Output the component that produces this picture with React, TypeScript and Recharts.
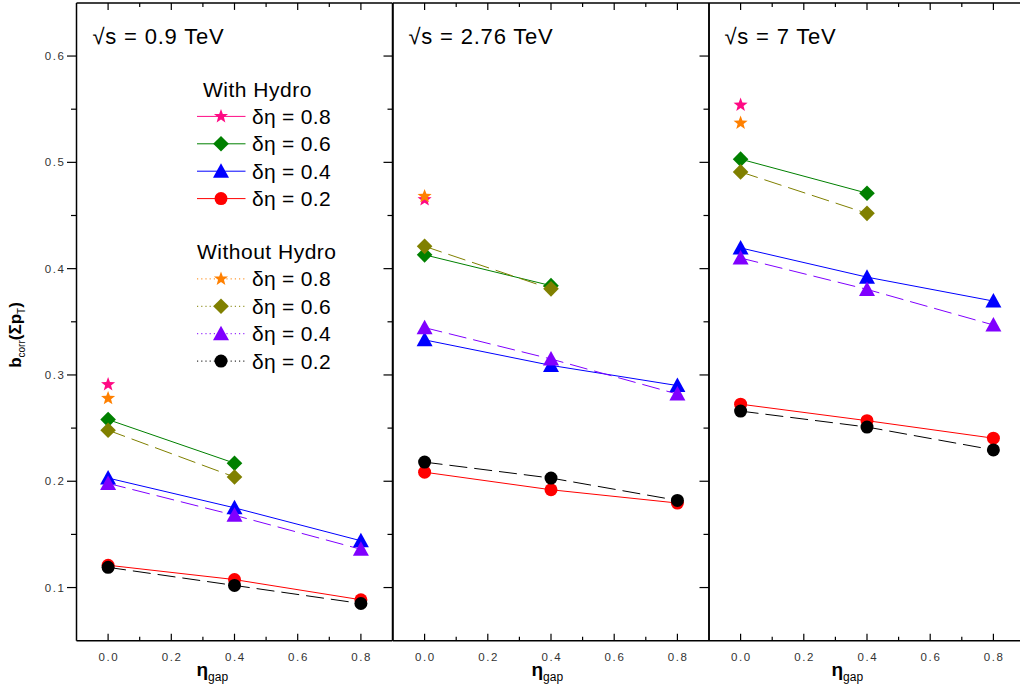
import React from 'react'
import { LineChart, Line, XAxis, YAxis } from 'recharts'

// η_gap positions of the calculation points
const ETA_GAP = [0.0, 0.4, 0.8]
const ENERGIES = ['0.9', '2.76', '7']
const DELTA_ETA = ['0.8', '0.6', '0.4', '0.2']

// √s = 0.9 TeV
const HYDRO_09_D08 = [0.291]
const HYDRO_09_D06 = [0.258, 0.217]
const HYDRO_09_D04 = [0.203, 0.175, 0.144]
const HYDRO_09_D02 = [0.121, 0.1075, 0.0885]
const NOHYDRO_09_D08 = [0.278]
const NOHYDRO_09_D06 = [0.248, 0.204]
const NOHYDRO_09_D04 = [0.198, 0.168, 0.136]
const NOHYDRO_09_D02 = [0.119, 0.102, 0.085]

// √s = 2.76 TeV
const HYDRO_276_D08 = [0.465]
const HYDRO_276_D06 = [0.413, 0.384]
const HYDRO_276_D04 = [0.333, 0.309, 0.29]
const HYDRO_276_D02 = [0.2085, 0.192, 0.1795]
const NOHYDRO_276_D08 = [0.468]
const NOHYDRO_276_D06 = [0.421, 0.381]
const NOHYDRO_276_D04 = [0.3445, 0.315, 0.282]
const NOHYDRO_276_D02 = [0.218, 0.203, 0.182]

// √s = 7 TeV
const HYDRO_7_D08 = [0.554]
const HYDRO_7_D06 = [0.503, 0.471]
const HYDRO_7_D04 = [0.4195, 0.392, 0.3695]
const HYDRO_7_D02 = [0.2725, 0.257, 0.2405]
const NOHYDRO_7_D08 = [0.537]
const NOHYDRO_7_D06 = [0.491, 0.452]
const NOHYDRO_7_D04 = [0.41, 0.3805, 0.347]
const NOHYDRO_7_D02 = [0.266, 0.251, 0.2295]

const X_TICKS = [0, 0.1, 0.2, 0.3, 0.4, 0.5, 0.6, 0.7, 0.8]
const Y_TICKS = [0.1, 0.15, 0.2, 0.25, 0.3, 0.35, 0.4, 0.45, 0.5, 0.55, 0.6]

const HYDRO_COLORS = ['#ff0a84', '#008000', '#0000ff', '#ff0000']
const NOHYDRO_COLORS = ['#ff8000', '#808000', '#8000ff', '#000000']
const SHAPES = ['star', 'diamond', 'triangle', 'circle']

const PANELS = [
  {
    energy: ENERGIES[0],
    hydro: [HYDRO_09_D08, HYDRO_09_D06, HYDRO_09_D04, HYDRO_09_D02],
    noHydro: [NOHYDRO_09_D08, NOHYDRO_09_D06, NOHYDRO_09_D04, NOHYDRO_09_D02],
  },
  {
    energy: ENERGIES[1],
    hydro: [HYDRO_276_D08, HYDRO_276_D06, HYDRO_276_D04, HYDRO_276_D02],
    noHydro: [NOHYDRO_276_D08, NOHYDRO_276_D06, NOHYDRO_276_D04, NOHYDRO_276_D02],
  },
  {
    energy: ENERGIES[2],
    hydro: [HYDRO_7_D08, HYDRO_7_D06, HYDRO_7_D04, HYDRO_7_D02],
    noHydro: [NOHYDRO_7_D08, NOHYDRO_7_D06, NOHYDRO_7_D04, NOHYDRO_7_D02],
  },
]

// layout
const W = 1020
const H = 688
const PLOT_TOP = 2.9
const PLOT_BOTTOM = 640.7
const PLOT_W = 316
const PLOT_LEFTS = [76.5, 392.5, 708.5]
const XTITLE_OFFSETS = [120, 139, 123]
const FONT = "'Liberation Sans', Arial, sans-serif"
const AXIS_STROKE = { stroke: '#000', strokeWidth: 1.5 }

function buildRows(hydro: number[][], noHydro: number[][]) {
  return ETA_GAP.map((x, i) => {
    const row: Record<string, number | undefined> = { x }
    hydro.forEach((s, k) => (row['h' + k] = s[i]))
    noHydro.forEach((s, k) => (row['n' + k] = s[i]))
    return row
  })
}

function Marker({ shape, cx, cy, color }: { shape: string; cx: number; cy: number; color: string }) {
  if (shape === 'circle') return <circle cx={cx} cy={cy} r={6.5} fill={color} />
  if (shape === 'diamond') {
    const r = 7.8
    return <polygon points={`${cx},${cy - r} ${cx + r},${cy} ${cx},${cy + r} ${cx - r},${cy}`} fill={color} />
  }
  if (shape === 'triangle') {
    return <polygon points={`${cx},${cy - 8} ${cx + 8},${cy + 6.5} ${cx - 8},${cy + 6.5}`} fill={color} />
  }
  // five-pointed star
  const pts: string[] = []
  for (let i = 0; i < 10; i++) {
    const r = i % 2 === 0 ? 7.4 : 3.1
    const a = -Math.PI / 2 + (i * Math.PI) / 5
    pts.push(`${cx + r * Math.cos(a)},${cy + r * Math.sin(a)}`)
  }
  return <polygon points={pts.join(' ')} fill={color} />
}

const isMajorY = (v: number) => Math.abs(v * 10 - Math.round(v * 10)) < 1e-6
const isMajorX = (v: number) => Math.round(v * 10) % 2 === 0

const tickText = { fontSize: 11.5, fill: '#333', letterSpacing: 1.6, fontFamily: FONT }

function makeTick(side: 'left' | 'right' | 'top' | 'bottom', labels: boolean) {
  return (p: any) => {
    const v = p.payload.value as number
    const { x, y } = p
    if (side === 'left' || side === 'right') {
      const major = isMajorY(v)
      const len = major ? 9.5 : 5.5
      return (
        <g key={`t-${side}-${v}`}>
          <line x1={x - len} x2={side === 'right' ? x + len : x} y1={y} y2={y} stroke="#000" strokeWidth={1.2} />
          {labels && major && (
            <text x={x - 11} y={y} dy="0.36em" textAnchor="end" {...tickText}>
              {v.toFixed(1)}
            </text>
          )}
        </g>
      )
    }
    const major = isMajorX(v)
    const len = major ? 7 : 4
    const dir = side === 'bottom' ? -1 : 1
    return (
      <g key={`t-${side}-${v}`}>
        <line x1={x} x2={x} y1={y} y2={y + dir * len} stroke="#000" strokeWidth={1.2} />
        {labels && major && (
          <text x={x + 0.8} y={y + 20.5} textAnchor="middle" {...tickText}>
            {v.toFixed(1)}
          </text>
        )}
      </g>
    )
  }
}

function Panel({ index }: { index: number }) {
  const panel = PANELS[index]
  const plotLeft = PLOT_LEFTS[index]
  const padL = index === 0 ? plotLeft : 12
  const padR = 12
  const width = padL + PLOT_W + padR
  const rows = buildRows(panel.hydro, panel.noHydro)

  const series = [
    ...panel.hydro.map((_, k) => ({ key: 'h' + k, color: HYDRO_COLORS[k], shape: SHAPES[k], dash: undefined })),
    ...panel.noHydro.map((_, k) => ({ key: 'n' + k, color: NOHYDRO_COLORS[k], shape: SHAPES[k], dash: '18 7' })),
  ]

  return (
    <div style={{ position: 'absolute', left: plotLeft - padL, top: 0 }}>
      <LineChart
        width={width}
        height={H}
        data={rows}
        margin={{ top: PLOT_TOP - 1, bottom: H - PLOT_BOTTOM - 1, left: padL - 1, right: padR - 1 }}
      >
        <XAxis
          dataKey="x"
          type="number"
          domain={[-0.1, 0.9]}
          ticks={X_TICKS}
          interval={0}
          height={1}
          tickSize={0}
          tickMargin={0}
          axisLine={AXIS_STROKE}
          tickLine={false}
          tick={makeTick('bottom', true)}
        />
        <XAxis
          xAxisId="top"
          orientation="top"
          dataKey="x"
          type="number"
          domain={[-0.1, 0.9]}
          ticks={X_TICKS}
          interval={0}
          height={1}
          tickSize={0}
          tickMargin={0}
          axisLine={AXIS_STROKE}
          tickLine={false}
          tick={makeTick('top', false)}
        />
        <YAxis
          type="number"
          domain={[0.05, 0.65]}
          ticks={Y_TICKS}
          interval={0}
          width={1}
          tickSize={0}
          tickMargin={0}
          axisLine={AXIS_STROKE}
          tickLine={false}
          tick={makeTick('left', index === 0)}
        />
        <YAxis
          yAxisId="right"
          orientation="right"
          type="number"
          domain={[0.05, 0.65]}
          ticks={Y_TICKS}
          interval={0}
          width={1}
          tickSize={0}
          tickMargin={0}
          axisLine={AXIS_STROKE}
          tickLine={false}
          tick={makeTick('right', false)}
        />
        {series.map((s) => (
          <Line
            key={s.key}
            dataKey={s.key}
            type="linear"
            stroke={s.color}
            strokeWidth={1}
            strokeDasharray={s.dash}
            isAnimationActive={false}
            activeDot={false}
            dot={(p: any) =>
              p.value == null || p.cx == null || p.cy == null ? (
                <g key={`d-${s.key}-${p.index}`} />
              ) : (
                <Marker key={`d-${s.key}-${p.index}`} shape={s.shape} cx={p.cx} cy={p.cy} color={s.color} />
              )
            }
          />
        ))}
      </LineChart>
    </div>
  )
}

function LegendGroup({ title, y, colors, dotted }: { title: string; y: number; colors: string[]; dotted: boolean }) {
  const rowGap = 27.4
  return (
    <g>
      <text x={dotted ? 197 : 203} y={y} fontSize={21} letterSpacing={0.5} fontFamily={FONT} fill="#000">
        {title}
      </text>
      {DELTA_ETA.map((d, k) => {
        const cy = y - 7.5 + rowGap * (k + 1)
        return (
          <g key={d}>
            <line
              x1={197}
              x2={245.5}
              y1={cy}
              y2={cy}
              stroke={colors[k]}
              strokeWidth={1}
              strokeDasharray={dotted ? '1.2 3' : undefined}
            />
            <Marker shape={SHAPES[k]} cx={221} cy={cy} color={colors[k]} />
            <text x={252} y={cy + 7.5} fontSize={21} letterSpacing={0.3} fontFamily={FONT} fill="#000">
              δη = {d}
            </text>
          </g>
        )
      })}
    </g>
  )
}

export default function App() {
  return (
    <div style={{ position: 'absolute', left: 0, top: 0, width: W, height: H, overflow: 'hidden', background: '#fff' }}>
      {PANELS.map((_, i) => (
        <Panel key={i} index={i} />
      ))}
      <svg width={W} height={H} style={{ position: 'absolute', left: 0, top: 0, pointerEvents: 'none' }}>
        {PANELS.map((p, i) => (
          <g key={p.energy}>
            <text
              x={PLOT_LEFTS[i] + 16}
              y={43.5}
              fontSize={22}
              letterSpacing={0.8}
              fontFamily={FONT}
              fill="#000"
            >
              √s = {p.energy} TeV
            </text>
            <text
              x={PLOT_LEFTS[i] + XTITLE_OFFSETS[i]}
              y={676}
              fontSize={19}
              fontWeight="bold"
              fontFamily={FONT}
              fill="#000"
            >
              η
              <tspan fontSize={12} fontWeight="normal" dy={5}>
                gap
              </tspan>
            </text>
          </g>
        ))}
        <text
          transform="translate(21, 335) rotate(-90)"
          textAnchor="middle"
          fontFamily={FONT}
          fontWeight="bold"
          fontSize={17}
          fill="#000"
        >
          b
          <tspan fontSize={10} fontWeight="normal" dy={4}>
            corr
          </tspan>
          <tspan dy={-4}>(Σp</tspan>
          <tspan fontSize={10} fontWeight="normal" dy={4}>
            T
          </tspan>
          <tspan dy={-4}>)</tspan>
        </text>
        <LegendGroup title="With Hydro" y={96.5} colors={HYDRO_COLORS} dotted={false} />
        <LegendGroup title="Without Hydro" y={259} colors={NOHYDRO_COLORS} dotted={true} />
      </svg>
    </div>
  )
}
